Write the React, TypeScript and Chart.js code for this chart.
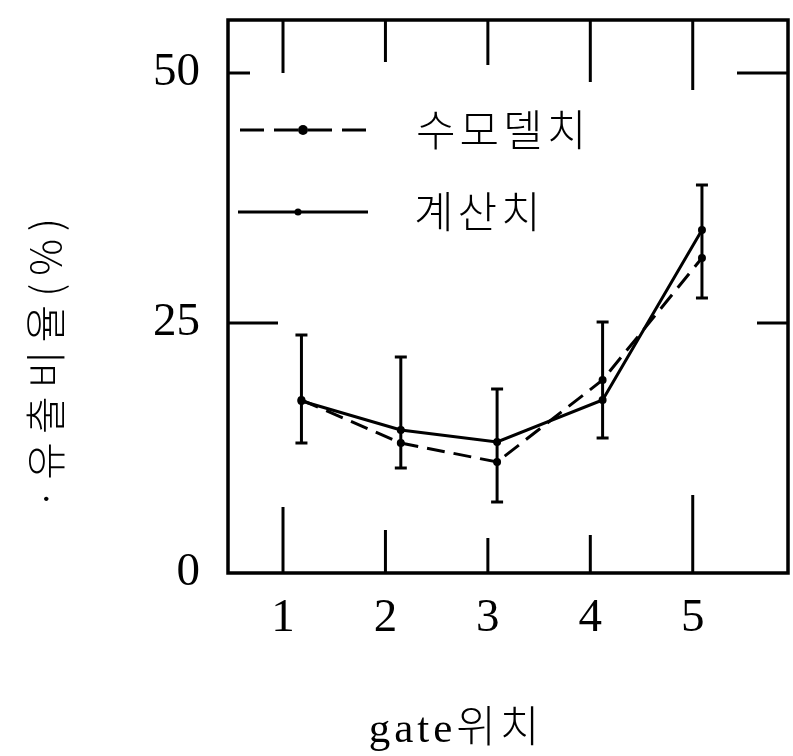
import React, { useEffect, useRef } from "react";
import { Chart, registerables } from "chart.js";

Chart.register(...registerables);

// ---- data ----
const gateTicks = [1, 2, 3, 4, 5];
const gatePositions = [1.18, 2.15, 3.09, 4.12, 5.09];
const modelValues = [17.3, 13.0, 11.1, 19.3, 31.5]; // 수모델치 (dashed)
const calcValues = [17.2, 14.3, 13.1, 17.3, 34.3]; // 계산치 (solid)
const errLow = [13.0, 10.5, 7.1, 13.5, 27.5];
const errHigh = [23.8, 21.6, 18.4, 25.1, 38.8];
const yTicks = [0, 25, 50];
const seriesNames = ["수모델치", "계산치"];
const xTitle = "gate위치";
const yTitle = "·유출비율(%)";

// ---- styles ----
const topTickLen = [53, 42, 45, 62, 70];
const bottomTickLen = [66, 43, 35, 38, 78];
const leftTickLen = [0, 50, 22];
const rightTickLen = [0, 31, 51];
const serif = "'Liberation Serif', 'Noto Sans CJK KR', serif";
const korean = "'Noto Sans CJK KR', 'Liberation Serif', sans-serif";
const dashPattern = [18, 9];

const decorPlugin = {
  id: "decor",
  afterDatasetsDraw(chart: any) {
    const { ctx, chartArea: a, scales } = chart;
    const x = scales.x;
    const y = scales.y;
    const line = (x1: number, y1: number, x2: number, y2: number) => {
      ctx.beginPath();
      ctx.moveTo(x1, y1);
      ctx.lineTo(x2, y2);
      ctx.stroke();
    };
    ctx.save();
    ctx.strokeStyle = "#000";
    ctx.fillStyle = "#000";
    ctx.lineWidth = 3.5;
    ctx.setLineDash([]);
    // frame
    ctx.strokeRect(a.left, a.top, a.right - a.left, a.bottom - a.top);
    ctx.lineWidth = 3;
    // inner ticks on x
    gateTicks.forEach((v, i) => {
      const px = x.getPixelForValue(v);
      line(px, a.top, px, a.top + topTickLen[i]);
      line(px, a.bottom, px, a.bottom - bottomTickLen[i]);
    });
    // inner ticks on y
    yTicks.forEach((v, i) => {
      const py = y.getPixelForValue(v);
      if (leftTickLen[i]) line(a.left, py, a.left + leftTickLen[i], py);
      if (rightTickLen[i]) line(a.right, py, a.right - rightTickLen[i], py);
    });
    // error bars
    gatePositions.forEach((g, i) => {
      const px = x.getPixelForValue(g);
      const y1 = y.getPixelForValue(errLow[i]);
      const y2 = y.getPixelForValue(errHigh[i]);
      ctx.lineWidth = 3;
      line(px, y1, px, y2);
      line(px - 6, y1, px + 6, y1);
      line(px - 6, y2, px + 6, y2);
    });
    // legend
    const ly1 = a.top + 110;
    const ly2 = a.top + 192;
    ctx.lineWidth = 3;
    ctx.setLineDash([24, 10]);
    line(a.left + 12, ly1, a.left + 147, ly1);
    ctx.setLineDash([]);
    ctx.beginPath();
    ctx.arc(a.left + 75, ly1, 5, 0, Math.PI * 2);
    ctx.fill();
    line(a.left + 10, ly2, a.left + 140, ly2);
    ctx.beginPath();
    ctx.arc(a.left + 70, ly2, 3.5, 0, Math.PI * 2);
    ctx.fill();
    ctx.font = `300 43px ${korean}`;
    ctx.textAlign = "left";
    ctx.textBaseline = "middle";
    (ctx as any).letterSpacing = "4px";
    ctx.fillText(seriesNames[0], a.left + 188, ly1);
    ctx.fillText(seriesNames[1], a.left + 186, ly2);
    // axis titles
    ctx.textAlign = "center";
    (ctx as any).letterSpacing = "4px";
    ctx.font = `300 43px ${serif}`;
    ctx.fillText(xTitle, 456, 731);
    ctx.save();
    ctx.translate(45, 360);
    ctx.rotate(-Math.PI / 2);
    (ctx as any).letterSpacing = "8px";
    ctx.font = `300 41px ${korean}`;
    ctx.fillText(yTitle, 0, 0);
    ctx.restore();
    ctx.restore();
  },
};

export default function App() {
  const ref = useRef<HTMLCanvasElement | null>(null);
  useEffect(() => {
    document.body.style.margin = "0";
    const canvas = ref.current;
    if (!canvas) return;
    const chart = new Chart(canvas, {
      type: "line",
      data: {
        datasets: [
          {
            label: seriesNames[0],
            data: gatePositions.map((g, i) => ({ x: g, y: modelValues[i] })),
            borderColor: "#000",
            backgroundColor: "#000",
            borderWidth: 3,
            borderDash: dashPattern,
            pointRadius: 4,
            pointBackgroundColor: "#000",
            pointBorderWidth: 0,
            tension: 0,
          },
          {
            label: seriesNames[1],
            data: gatePositions.map((g, i) => ({ x: g, y: calcValues[i] })),
            borderColor: "#000",
            backgroundColor: "#000",
            borderWidth: 3,
            pointRadius: 4,
            pointBackgroundColor: "#000",
            pointBorderWidth: 0,
            tension: 0,
          },
        ],
      },
      options: {
        responsive: false,
        animation: false,
        layout: { padding: { top: 20, right: 5, left: 0, bottom: 0 } },
        plugins: { legend: { display: false }, tooltip: { enabled: false } },
        scales: {
          x: {
            type: "linear",
            min: 0.463,
            max: 5.93,
            grid: { display: false, drawTicks: false },
            border: { display: false },
            afterBuildTicks: (s: any) => {
              s.ticks = gateTicks.map((v) => ({ value: v }));
            },
            afterFit: (s: any) => {
              s.height = 183;
              s.paddingLeft = 0;
              s.paddingRight = 0;
            },
            ticks: {
              color: "#000",
              padding: 17,
              font: { family: serif, size: 47 },
              callback: (v: any) => String(v),
            },
          },
          y: {
            type: "linear",
            min: 0,
            max: 55.3,
            grid: { display: false, drawTicks: false },
            border: { display: false },
            afterBuildTicks: (s: any) => {
              s.ticks = yTicks.map((v) => ({ value: v }));
            },
            afterFit: (s: any) => {
              s.width = 228;
              s.paddingTop = 0;
              s.paddingBottom = 0;
            },
            ticks: {
              color: "#000",
              padding: 28,
              font: { family: serif, size: 47 },
              callback: (v: any) => String(v),
            },
          },
        },
      },
      plugins: [decorPlugin],
    });
    return () => chart.destroy();
  }, []);
  return (
    <div style={{ width: 793, height: 756, background: "#fff" }}>
      <canvas ref={ref} width={793} height={756} style={{ display: "block" }} />
    </div>
  );
}
